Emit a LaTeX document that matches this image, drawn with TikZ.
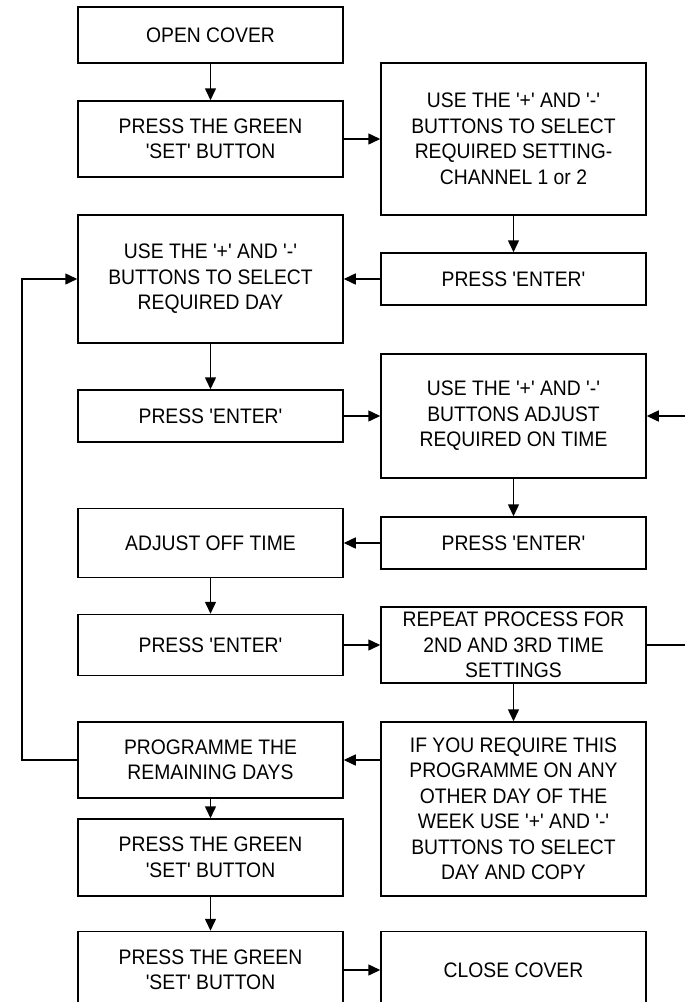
\documentclass[tikz,border=0pt]{standalone}
\usepackage{fontspec}
\newfontfamily\boxfont{Liberation Sans}[FakeStretch=0.92]
\usetikzlibrary{arrows.meta}

\begin{document}
\begin{tikzpicture}[x=1pt,y=-1pt,line width=1.5pt,
        >={Triangle[length=12pt,width=11pt]},
        box/.style={draw,align=center,inner sep=0pt,
            font=\boxfont\fontsize{21}{25.5}\selectfont}]
            \useasboundingbox (0,0) rectangle (685,1002);
            \clip (0,0) rectangle (685,1002);
            \begin{scope}[box/.append style={minimum width=265pt}]
                \node[box,minimum height=56pt] (opencover) at (210.5,35) {OPEN COVER};
                \node[box,minimum height=76pt] (greenset1) at (210.5,139) {PRESS THE GREEN\\'SET' BUTTON};
                \node[box,minimum height=128pt] (selday) at (210.5,279) {USE THE '+' AND '-'\\BUTTONS TO SELECT\\REQUIRED DAY};
                \node[box,minimum height=52pt] (enter2) at (210.5,416) {PRESS 'ENTER'};
                \node[box,minimum height=69pt] (offtime) at (210.5,543) {ADJUST OFF TIME};
                \node[box,minimum height=61pt] (enter4) at (210.5,645) {PRESS 'ENTER'};
                \node[box,minimum height=76pt] (remdays) at (210.5,760) {PROGRAMME THE\\REMAINING DAYS};
                \node[box,minimum height=77pt] (greenset2) at (210.5,857.5) {PRESS THE GREEN\\'SET' BUTTON};
                \node[box,minimum height=77pt] (greenset3) at (210.5,970) {PRESS THE GREEN\\'SET' BUTTON};
            \end{scope}
            \begin{scope}[box/.append style={minimum width=265pt}]
                \node[box,minimum height=152pt] (channel) at (513.5,139) {USE THE '+' AND '-'\\BUTTONS TO SELECT\\REQUIRED SETTING-\\CHANNEL 1 or 2};
                \node[box,minimum height=52pt] (enter1) at (513.5,279) {PRESS 'ENTER'};
                \node[box,minimum height=124pt] (ontime) at (513.5,416) {USE THE '+' AND '-'\\BUTTONS ADJUST\\REQUIRED ON TIME};
                \node[box,minimum height=52pt] (enter3) at (513.5,543) {PRESS 'ENTER'};
                \node[box,minimum height=76pt] (repeatproc) at (513.5,645) {REPEAT PROCESS FOR\\2ND AND 3RD TIME\\SETTINGS};
                \node[box,minimum height=174pt] (copyday) at (513.5,809) {IF YOU REQUIRE THIS\\PROGRAMME ON ANY\\OTHER DAY OF THE\\WEEK USE '+' AND '-'\\BUTTONS TO SELECT\\DAY AND COPY};
                \node[box,minimum height=77pt] (closecover) at (513.5,970) {CLOSE COVER};
            \end{scope}
            \coordinate (backL) at (22,760);
            \coordinate (backR) at (700,645);
            \draw[->] (opencover) -- (greenset1);
            \draw[->] (greenset1) -- (channel);
            \draw[->] (channel) -- (enter1);
            \draw[->] (enter1) -- (selday);
            \draw[->] (selday) -- (enter2);
            \draw[->] (enter2) -- (ontime);
            \draw[->] (ontime) -- (enter3);
            \draw[->] (enter3) -- (offtime);
            \draw[->] (offtime) -- (enter4);
            \draw[->] (enter4) -- (repeatproc);
            \draw[->] (repeatproc) -- (copyday);
            \draw[->] (copyday.west |- remdays) -- (remdays);
            \draw[->] (remdays) -- (greenset2);
            \draw[->] (greenset2) -- (greenset3);
            \draw[->] (greenset3) -- (closecover);
            \draw[->] (remdays.west) -- (backL) |- (selday.west);
            \draw[->] (repeatproc.east) -- (backR) |- (ontime.east);
        \end{tikzpicture}
\end{document}
